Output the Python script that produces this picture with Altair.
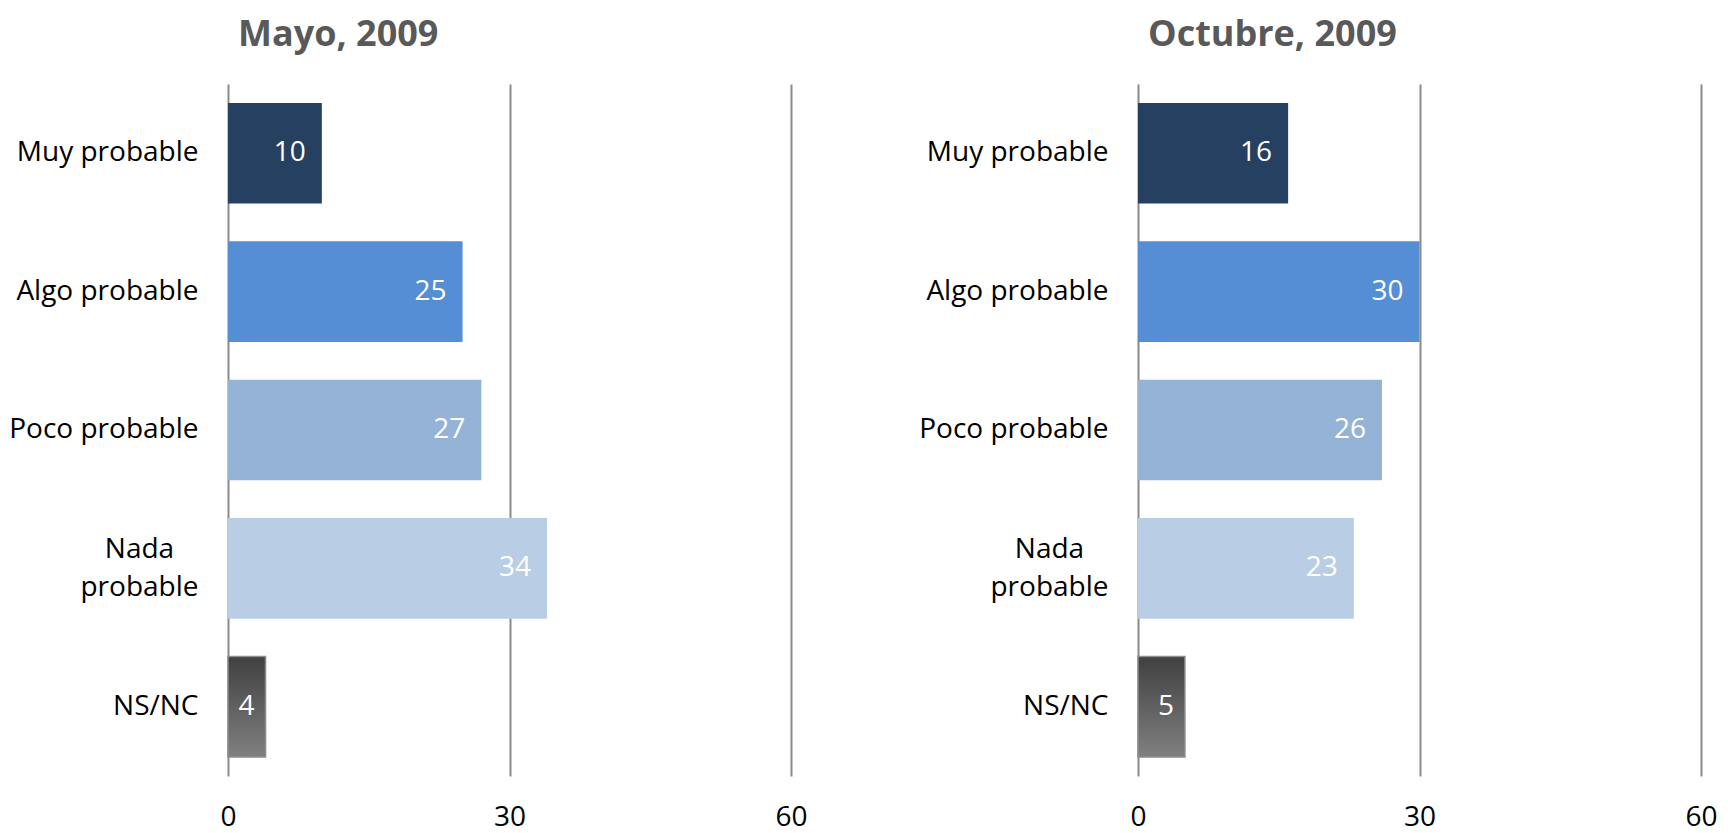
import altair as alt
import pandas as pd

# ---- data ----
categorias = ["Muy probable", "Algo probable", "Poco probable", "Nada probable", "NS/NC"]
mayo_2009 = [10, 25, 27, 34, 4]
octubre_2009 = [16, 30, 26, 23, 5]
colores = ["#254061", "#558ED5", "#95B3D7", "#B9CDE5", "#5F5F5F"]
ticks_x = [0, 30, 60]
titulos = ["Mayo, 2009", "Octubre, 2009"]

FONT = "Open Sans"
GRID = "#8A8A8A"


def panel(values, titulo):
    df = pd.DataFrame({"cat": categorias, "val": values})
    base = alt.Chart(df)

    y_enc = alt.Y(
        "cat:N",
        sort=categorias,
        title=None,
        scale=alt.Scale(paddingInner=0.273, paddingOuter=0.1365),
        axis=alt.Axis(
            domain=False,
            ticks=False,
            grid=False,
            labelFont=FONT,
            labelFontSize=28,
            labelColor="#000000",
            labelLimit=400,
            labelLineHeight=38,
            labelExpr="datum.value == 'Nada probable' ? ['Nada', 'probable'] : datum.value",
            labelAlign={"condition": {"test": "datum.value == 'Nada probable'", "value": "center"}, "value": "right"},
            labelPadding={"condition": {"test": "datum.value == 'Nada probable'", "value": 89}, "value": 30},
            labelOffset={"condition": {"test": "datum.value == 'Nada probable'", "value": -18}, "value": 0},
        ),
    )
    x_enc = alt.X(
        "val:Q",
        title=None,
        scale=alt.Scale(domain=[0, 60], nice=False),
        axis=alt.Axis(
            values=ticks_x,
            domain=False,
            ticks=False,
            grid=True,
            gridColor=GRID,
            gridWidth=2,
            labelFont=FONT,
            labelFontSize=28,
            labelColor="#000000",
            labelPadding=27,
            labelFlush=False,
            format="d",
        ),
    )

    bars = base.mark_bar().encode(
        x=x_enc,
        y=y_enc,
        color=alt.Color("cat:N", scale=alt.Scale(domain=categorias, range=colores), legend=None),
    )

    grad = alt.Gradient(
        gradient="linear",
        stops=[alt.GradientStop(color="#404040", offset=0), alt.GradientStop(color="#808080", offset=1)],
        x1=0, x2=0, y1=0, y2=1,
    )
    nsnc = base.transform_filter(alt.datum.cat == "NS/NC").mark_bar(
        fill=grad, stroke="#8C8C8C", strokeWidth=1.5
    ).encode(x="val:Q", y=alt.Y("cat:N", sort=categorias))

    text_style = dict(align="right", baseline="middle", color="white", font=FONT, fontSize=28)
    labels_big = base.transform_filter(alt.datum.val >= 10).mark_text(dx=-16, **text_style).encode(
        x="val:Q", y=alt.Y("cat:N", sort=categorias), text=alt.Text("val:Q")
    )
    labels_small = base.transform_filter(alt.datum.val < 10).mark_text(dx=-11, **text_style).encode(
        x="val:Q", y=alt.Y("cat:N", sort=categorias), text=alt.Text("val:Q")
    )

    return alt.layer(bars, nsnc, labels_big, labels_small).properties(
        width=563,
        height=692,
        title=alt.TitleParams(
            text=titulo,
            anchor="start",
            frame="group",
            dx=10,
            offset=30,
            font=FONT,
            fontSize=36,
            fontWeight="bold",
            color="#595959",
        ),
    )


chart = alt.hconcat(
    panel(mayo_2009, titulos[0]),
    panel(octubre_2009, titulos[1]),
    spacing=110,
).properties(padding={"left": 0, "top": 9, "right": 0, "bottom": 8}).configure_view(stroke=None)

chart.save("out.html", embed_options={"renderer": "svg", "actions": False})
